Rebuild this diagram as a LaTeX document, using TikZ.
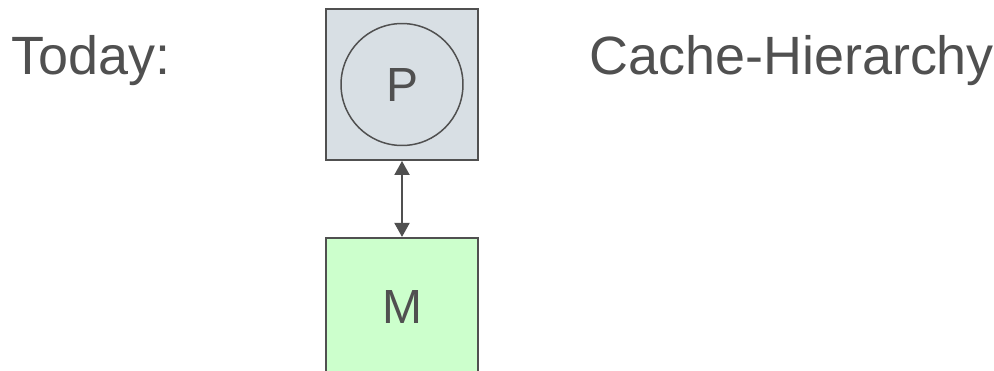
\documentclass[tikz,border=0pt]{standalone}
\usepackage{fontspec}
\setmainfont{Liberation Sans}
\usetikzlibrary{arrows.meta,positioning}
\definecolor{slateGrey}{RGB}{80,80,80}
\definecolor{cpuBlue}{RGB}{216,223,228}
\definecolor{memGreen}{RGB}{204,255,204}

\begin{document}
\begin{tikzpicture}[x=0.02cm, y=-0.02cm]%
  \tikzset{both arrow/.style={draw,{Triangle[length=0.28cm,width=0.3cm]}-{Triangle[length=0.28cm,width=0.3cm]},line width=1.1pt,slateGrey}}
  \tikzset{unit box/.style={draw=slateGrey, line width=1.1pt, minimum width=3.04cm, inner sep=0pt, text=slateGrey, font=\fontsize{27.3}{32}\selectfont}}
  \tikzset{slide text/.style={text=slateGrey, inner sep=0pt, anchor=base west, font=\fontsize{30.7}{36}\selectfont}}

  \useasboundingbox (0,0) rectangle (994,370);
  \clip (0,0) rectangle (994,370);

  \node[slide text] at (11,74) (today) {Today:};
  \node[slide text] at (589,74) (cache) {Cache-Hierarchy};

  \node[unit box, fill=cpuBlue, minimum height=3.02cm] at (402,84.5) (cpu) {};
  \node[circle, draw=slateGrey, line width=0.85pt, minimum size=2.44cm, inner sep=0pt, text=slateGrey, font=\fontsize{27.3}{32}\selectfont] at (cpu.center) (P) {P};
  \node[unit box, fill=memGreen, minimum height=2.76cm, below=1.52cm of cpu] (M) {M};

  \path[both arrow] (cpu) -- (M);
\end{tikzpicture}
\end{document}
